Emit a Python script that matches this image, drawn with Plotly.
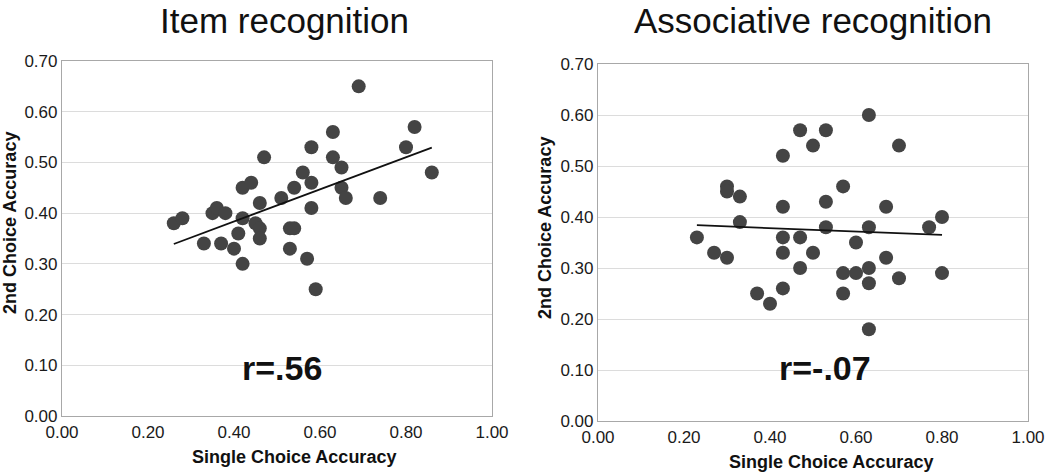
import numpy as np
import plotly.graph_objects as go

# Item recognition
item_x = [0.26, 0.28, 0.33, 0.35, 0.36, 0.38, 0.37, 0.40, 0.41, 0.42, 0.42, 0.42, 0.44,
          0.45, 0.46, 0.46, 0.46, 0.47, 0.51, 0.53, 0.54, 0.53, 0.54, 0.56, 0.58, 0.58,
          0.58, 0.57, 0.59, 0.63, 0.63, 0.65, 0.65, 0.66, 0.69, 0.74, 0.80, 0.82, 0.86]
item_y = [0.38, 0.39, 0.34, 0.40, 0.41, 0.40, 0.34, 0.33, 0.36, 0.39, 0.30, 0.45, 0.46,
          0.38, 0.37, 0.35, 0.42, 0.51, 0.43, 0.37, 0.37, 0.33, 0.45, 0.48, 0.53, 0.46,
          0.41, 0.31, 0.25, 0.56, 0.51, 0.49, 0.45, 0.43, 0.65, 0.43, 0.53, 0.57, 0.48]

# Associative recognition
assoc_x = [0.23, 0.27, 0.30, 0.30, 0.30, 0.33, 0.33, 0.37, 0.40, 0.43, 0.43, 0.43, 0.43,
           0.43, 0.47, 0.47, 0.47, 0.50, 0.50, 0.53, 0.53, 0.53, 0.57, 0.57, 0.57, 0.60,
           0.60, 0.63, 0.63, 0.63, 0.63, 0.63, 0.67, 0.67, 0.70, 0.70, 0.77, 0.80, 0.80]
assoc_y = [0.36, 0.33, 0.32, 0.46, 0.45, 0.44, 0.39, 0.25, 0.23, 0.52, 0.42, 0.36, 0.33,
           0.26, 0.57, 0.36, 0.30, 0.54, 0.33, 0.57, 0.43, 0.38, 0.46, 0.29, 0.25, 0.35,
           0.29, 0.60, 0.38, 0.30, 0.27, 0.18, 0.42, 0.32, 0.54, 0.28, 0.38, 0.40, 0.29]

titles = ["Item recognition", "Associative recognition"]
r_labels = ["r=.56", "r=-.07"]
x_ticks = [0.0, 0.2, 0.4, 0.6, 0.8, 1.0]
y_ticks = [0.0, 0.1, 0.2, 0.3, 0.4, 0.5, 0.6, 0.7]

W, H = 1050, 472
FONT = "Liberation Sans, Arial, sans-serif"
MARK = "#444444"

fig = go.Figure()

panels = [
    (item_x, item_y, "x", "y"),
    (assoc_x, assoc_y, "x2", "y2"),
]
for xs, ys, xa, ya in panels:
    fig.add_trace(go.Scatter(x=xs, y=ys, mode="markers", xaxis=xa, yaxis=ya,
                             marker=dict(size=14, color=MARK, line=dict(width=0)),
                             showlegend=False, hoverinfo="x+y"))
    k, b = np.polyfit(xs, ys, 1)
    lx = [min(xs), max(xs)]
    fig.add_trace(go.Scatter(x=lx, y=[k * v + b for v in lx], mode="lines",
                             xaxis=xa, yaxis=ya, line=dict(color="#111111", width=1.8),
                             showlegend=False, hoverinfo="skip"))

# pixel geometry of the two plot areas (left, right, top, bottom)
areas = [(62, 492, 61, 416), (598, 1028, 64, 421)]

def xdom(a):
    return [a[0] / W, a[1] / W]

def ydom(a):
    return [1 - a[3] / H, 1 - a[2] / H]

axis_common = dict(range=[0, 1.0], tickvals=x_ticks, tickformat=".2f", automargin=False,
                   showgrid=False, zeroline=False, showline=True, mirror=True,
                   linecolor="#a8a8a8", linewidth=1.2, ticks="",
                   tickfont=dict(family=FONT, size=17, color="#1a1a1a"))
yaxis_common = dict(range=[0, 0.7], tickvals=y_ticks, tickformat=".2f", automargin=False,
                    showgrid=True, gridcolor="#dcdcdc", gridwidth=1.2,
                    zeroline=False, showline=True, mirror=True,
                    linecolor="#a8a8a8", linewidth=1.2, ticks="",
                    tickfont=dict(family=FONT, size=17, color="#1a1a1a"))

fig.update_layout(
    width=W, height=H,
    margin=dict(l=0, r=0, t=0, b=0),
    paper_bgcolor="white", plot_bgcolor="white",
    xaxis=dict(domain=xdom(areas[0]), anchor="y", **axis_common),
    yaxis=dict(domain=ydom(areas[0]), anchor="x", **yaxis_common),
    xaxis2=dict(domain=xdom(areas[1]), anchor="y2", **axis_common),
    yaxis2=dict(domain=ydom(areas[1]), anchor="x2", **yaxis_common),
)

title_pos = [(284, 20), (813, 20)]
xlab_pos = [(294, 457), (831, 462)]
ylab_pos = [(10, 223), (545, 228)]
r_pos = [(282, 368), (825, 368)]

for i in range(2):
    tx, ty = title_pos[i]
    fig.add_annotation(x=tx / W, y=1 - ty / H, xref="paper", yref="paper",
                       text=titles[i], showarrow=False, xanchor="center", yanchor="middle",
                       font=dict(family=FONT, size=35, color="#111111"))
    lx, ly = xlab_pos[i]
    fig.add_annotation(x=lx / W, y=1 - ly / H, xref="paper", yref="paper",
                       text="<b>Single Choice Accuracy</b>", showarrow=False,
                       xanchor="center", yanchor="middle",
                       font=dict(family=FONT, size=18, color="#111111"))
    yx, yy = ylab_pos[i]
    fig.add_annotation(x=yx / W, y=1 - yy / H, xref="paper", yref="paper",
                       text="<b>2nd Choice Accuracy</b>", showarrow=False, textangle=-90,
                       xanchor="center", yanchor="middle",
                       font=dict(family=FONT, size=18, color="#111111"))
    rx, ry = r_pos[i]
    fig.add_annotation(x=rx / W, y=1 - ry / H, xref="paper", yref="paper",
                       text="<b>" + r_labels[i] + "</b>", showarrow=False,
                       xanchor="center", yanchor="middle",
                       font=dict(family=FONT, size=34, color="#111111"))

fig.write_html("out.html", config={"displayModeBar": False},
               post_script="document.body.style.margin='0';document.body.style.overflow='hidden';")
